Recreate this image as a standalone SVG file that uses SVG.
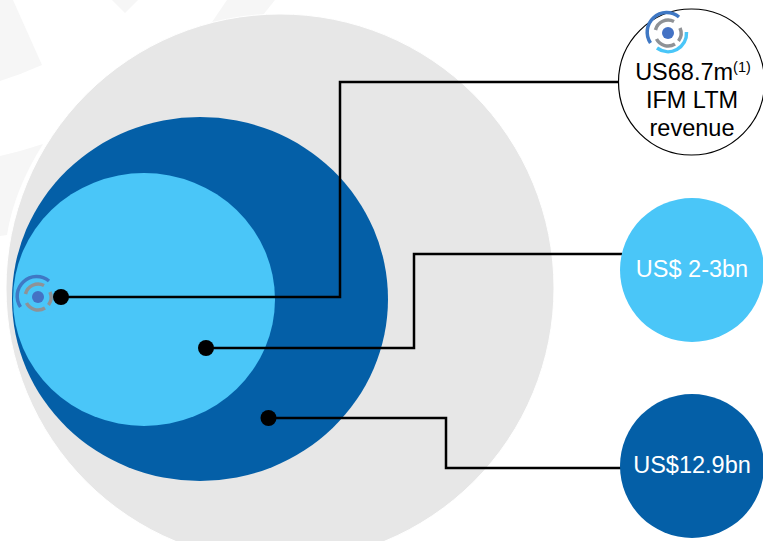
<svg xmlns="http://www.w3.org/2000/svg" width="763" height="541" viewBox="0 0 763 541">
<style>
.faint{fill:#f6f6f6}
.conn{fill:none;stroke:#000;stroke-width:2.500}
.dot{fill:#000}
text{font-family:"Liberation Sans",Arial,sans-serif;font-size:23.500px;text-anchor:middle}
</style>
<defs>
<g id="logo" fill="none" stroke-width="3.500">
<circle r="6" fill="#4472c4" stroke="none"/>
<path d="M-12.500-3A13 13 0 0 1 6-11.500" stroke="#8f9296"/>
<path d="M12-5A13 13 0 0 1 10.500 8" stroke="#8f9296"/>
<path d="M7 11A13 13 0 0 1-11.500 6" stroke="#8f9296"/>
<path d="M-17.500 10A19.500 19.500 0 0 1 11-16" stroke="#3f78c4"/>
<path d="M18.500 -1A18.500 18.500 0 0 1-11 15" stroke="#4ac6f8"/>
</g>
</defs>
<rect width="763" height="541" fill="#fff"/>
<g id="background">
<path class="faint" d="M0 0H13L42 65Q22 74 0 81Z"/>
<path class="faint" d="M112 0H138L125 13Z"/>
<path class="faint" d="M227 0H275L263 15L212 22Z"/>
<path class="faint" d="M0 156Q22 151 43 144Q14 190 7 235L0 236Z"/>
</g>
<g id="market-circles">
<circle id="outer" cx="280" cy="288" r="274" fill="#e7e7e7" stroke="#fff" stroke-width="1"/>
<ellipse id="mid" cx="200" cy="299" rx="188" ry="182" fill="#045fa7"/>
<ellipse id="inner" cx="144" cy="299.500" rx="131" ry="126.500" fill="#4ac6f8"/>
<use id="logo-inner" href="#logo" x="38" y="297"/>
</g>
<g id="connectors">
<path class="conn" d="M61 297H340V82H622"/>
<path class="conn" d="M206 348H414V254H622"/>
<path class="conn" d="M268 418H446V468H622"/>
<circle class="dot" cx="61" cy="297" r="8"/>
<circle class="dot" cx="206" cy="348" r="8"/>
<circle class="dot" cx="268.500" cy="418" r="8"/>
</g>
<g id="node-ifm">
<circle cx="691.500" cy="82" r="73" fill="#fff" stroke="#000" stroke-width="1.200"/>
<use href="#logo" x="668" y="33"/>
<text x="693" y="80">US68.7m<tspan font-size="14.500" dy="-8">(1)</tspan></text>
<text x="692" y="108">IFM LTM</text>
<text x="692" y="136">revenue</text>
</g>
<g id="node-sam">
<circle cx="692" cy="270" r="72" fill="#4ac6f8"/>
<text x="692" y="277" fill="#fff">US$ 2-3bn</text>
</g>
<g id="node-tam">
<circle cx="692" cy="466" r="72" fill="#045fa7"/>
<text x="692" y="473" fill="#fff">US$12.9bn</text>
</g>
</svg>
